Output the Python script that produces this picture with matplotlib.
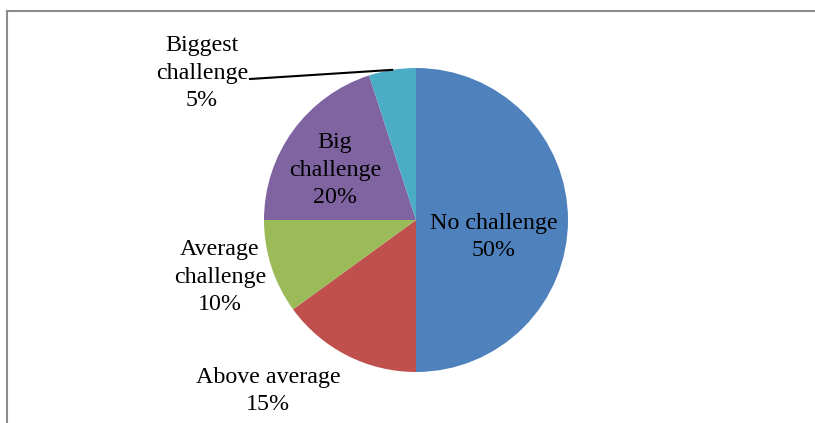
import matplotlib.pyplot as plt
import numpy as np
from matplotlib.lines import Line2D

W, H = 815, 423

categories = ["No challenge", "Above average", "Average\nchallenge", "Big\nchallenge", "Biggest\nchallenge"]
shares = [50, 15, 10, 20, 5]
colors = ["#4F81BD", "#C0504D", "#9BBB59", "#8064A2", "#4BACC6"]

# label block centres, in image pixels (x from left, y from top)
label_pos = [(494, 237), (268, 391), (220, 277), (335, 170), (202, 73)]

CENTER = (416, 220)
RADIUS = 152


def py(y):
    return H - y


plt.rcParams["font.family"] = ["Liberation Serif", "DejaVu Serif"]

fig = plt.figure(figsize=(W / 100, H / 100), dpi=100)
ax = fig.add_axes([0, 0, 1, 1])

ax.pie(
    shares,
    colors=colors,
    startangle=90,
    counterclock=False,
    center=(CENTER[0], py(CENTER[1])),
    radius=RADIUS,
    wedgeprops={"linewidth": 0},
)
ax.set_xlim(0, W)
ax.set_ylim(0, H)
ax.set_aspect("equal")
ax.axis("off")

for name, share, (x, y) in zip(categories, shares, label_pos):
    ax.text(x, py(y), f"{name}\n{share}%", ha="center", va="center",
            fontsize=17.3, linespacing=1.42, color="black")

# leader line for the smallest slice, ending at its mid-angle on the rim
start = 90 - 360 * sum(shares[:-1]) / sum(shares)
end = start - 360 * shares[-1] / sum(shares)
mid = np.deg2rad((start + end) / 2)
rim = (CENTER[0] + RADIUS * np.cos(mid), py(CENTER[1]) + RADIUS * np.sin(mid))
ax.plot([250, rim[0]], [py(79), rim[1]], color="black", lw=1.5)

# chart area border (only top and left visible in the crop)
fig.add_artist(Line2D([7 / W, 1], [1 - 11 / H, 1 - 11 / H], color="#8c8c8c", lw=1.5))
fig.add_artist(Line2D([7 / W, 7 / W], [0, 1 - 11 / H], color="#8c8c8c", lw=1.5))

fig.savefig("out.png", dpi=100)
